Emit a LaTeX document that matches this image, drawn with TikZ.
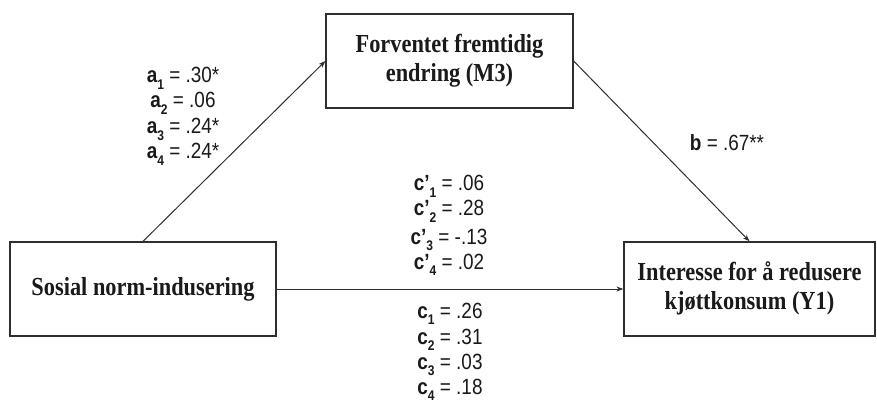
\documentclass[tikz,border=0pt]{standalone}
\usepackage{fontspec}
\setmainfont{Liberation Sans}
\newfontfamily\boxfont{Liberation Serif}
\usetikzlibrary{arrows.meta}
\newcommand\sq[1]{\scalebox{0.86}[1]{#1}}
\newcommand\sbb[1]{\raisebox{-0.28em}{\fontsize{14}{14}\selectfont\bfseries #1}}
\definecolor{ink}{HTML}{1A1A1A}
\definecolor{linec}{HTML}{2E2E2E}
\tikzset{
  box/.style={draw=linec, line width=1.3pt, fill=white, inner sep=0pt, text=ink,
    font=\boxfont\bfseries\fontsize{26}{29}\selectfont},
  conn/.style={draw=linec, line width=1pt, -{Stealth[length=7pt,width=5pt]}},
  lab/.style={anchor=base, inner sep=0pt, text=ink, font=\fontsize{22}{25}\selectfont}
}
\begin{document}
\begin{tikzpicture}[x=1pt,y=-1pt]
\useasboundingbox (0,0) rectangle (877,403);
\node[box, minimum width=266pt, minimum height=94pt] (L) at (143,289)
  {\sq{Sosial norm-indusering}};
\node[box, minimum width=247pt, minimum height=94pt] (M) at (449.5,61)
  {\sq{\begin{tabular}{@{}c@{}}Forventet fremtidig\\endring (M3)\end{tabular}}};
\node[box, minimum width=251pt, minimum height=94pt] (Y) at (749.5,289)
  {\sq{\begin{tabular}{@{}c@{}}Interesse for å redusere\\kjøttkonsum (Y1)\end{tabular}}};
\draw[conn] (L.north) -- (M.west);
\draw[conn] (M.east) -- (Y.north);
\draw[conn] (L.east) -- (Y.west);
% a labels
\node[lab] (a1) at (183,83)  {\sq{\textbf{a\sbb{1}} = .30*}};
\node[lab] (a2) at (183,108) {\sq{\textbf{a\sbb{2}} = .06}};
\node[lab] (a3) at (183,134) {\sq{\textbf{a\sbb{3}} = .24*}};
\node[lab] (a4) at (183,159) {\sq{\textbf{a\sbb{4}} = .24*}};
% b label
\node[lab] (b) at (727,151) {\sq{\textbf{b} = .67**}};
% c' labels
\node[lab] (cp1) at (449,191) {\sq{\textbf{c’\sbb{1}} = .06}};
\node[lab] (cp2) at (449,216) {\sq{\textbf{c’\sbb{2}} = .28}};
\node[lab] (cp3) at (449,244) {\sq{\textbf{c’\sbb{3}} = -.13}};
\node[lab] (cp4) at (449,269) {\sq{\textbf{c’\sbb{4}} = .02}};
% c labels
\node[lab] (c1) at (450,318) {\sq{\textbf{c\sbb{1}} = .26}};
\node[lab] (c2) at (450,344) {\sq{\textbf{c\sbb{2}} = .31}};
\node[lab] (c3) at (450,369) {\sq{\textbf{c\sbb{3}} = .03}};
\node[lab] (c4) at (450,394) {\sq{\textbf{c\sbb{4}} = .18}};
\end{tikzpicture}
\end{document}
